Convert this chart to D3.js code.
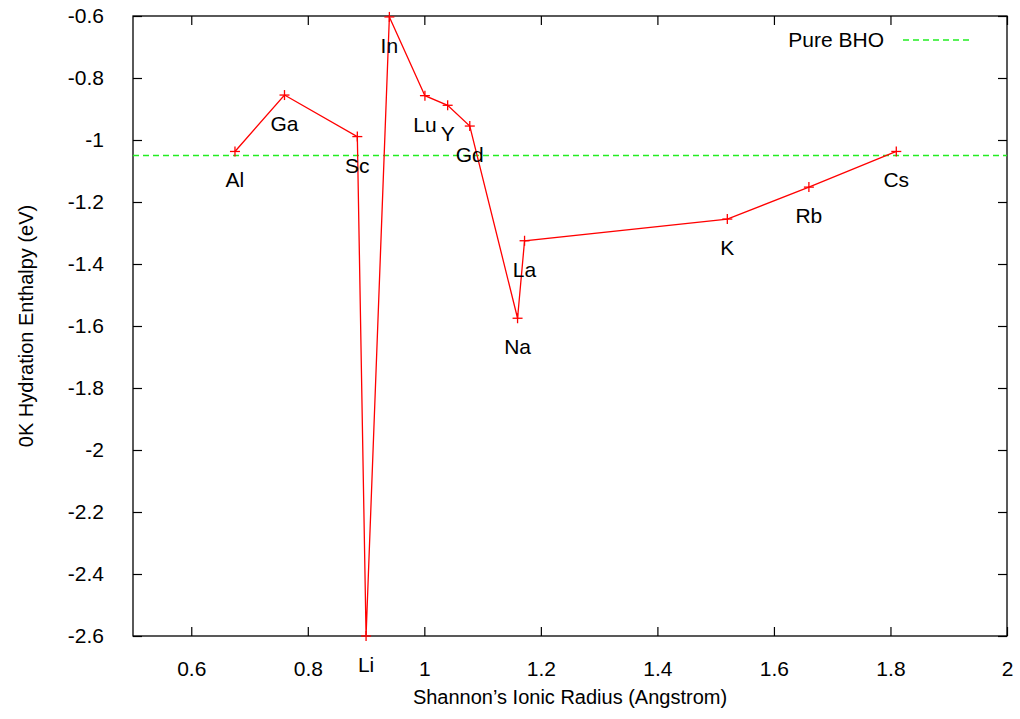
<!DOCTYPE html>
<html lang="en">
<head>
  <meta charset="UTF-8">
  <title>Hydration Enthalpy vs Ionic Radius</title>
  <style>
    * { margin: 0; padding: 0; box-sizing: border-box; }
    body, html { background: #fff; font-family: "Liberation Sans", Arial, sans-serif; }
    svg text { fill: #000; }
  </style>
</head>
<body>
  <div id="chart"></div>
  <script src="https://d3js.org/d3.v7.min.js"></script>
  <script>
    // Dopant ions, in plotting order
    const elements = ["Al", "Ga", "Sc", "Li", "In", "Lu", "Y", "Gd", "Na", "La", "K", "Rb", "Cs"];
    const radius   = [0.675, 0.76, 0.885, 0.90, 0.94, 1.001, 1.04, 1.078, 1.16, 1.172, 1.52, 1.66, 1.81];
    const enthalpy = [-1.037, -0.855, -0.989, -2.60, -0.603, -0.857, -0.888, -0.955, -1.575, -1.325, -1.255, -1.152, -1.037];
    const pureBHO = -1.05;

    const xTicks = [0.6, 0.8, 1, 1.2, 1.4, 1.6, 1.8, 2];
    const yTicks = [-0.6, -0.8, -1, -1.2, -1.4, -1.6, -1.8, -2, -2.2, -2.4, -2.6];

    const width = 1020, height = 719;
    const margin = { top: 16, right: 13, bottom: 83, left: 133 };
    const iw = width - margin.left - margin.right;
    const ih = height - margin.top - margin.bottom;

    const svg = d3.select("#chart").append("svg")
      .attr("width", width)
      .attr("height", height);

    const g = svg.append("g").attr("transform", `translate(${margin.left},${margin.top})`);

    const x = d3.scaleLinear().domain([0.5, 2]).range([0, iw]);
    const y = d3.scaleLinear().domain([-2.6, -0.6]).range([ih, 0]);

    // plain hyphen minus like gnuplot
    const fmt = d => String(+d.toFixed(1));

    // axes with inward ticks on all sides
    const tickLen = 9;
    g.append("g").attr("transform", `translate(0,${ih})`)
      .call(d3.axisBottom(x).tickValues(xTicks).tickSize(-tickLen).tickPadding(tickLen + 16).tickFormat(fmt))
      .call(a => a.select(".domain").remove());
    g.append("g")
      .call(d3.axisTop(x).tickValues(xTicks).tickSize(-tickLen).tickFormat(""))
      .call(a => a.select(".domain").remove());
    g.append("g")
      .call(d3.axisLeft(y).tickValues(yTicks).tickSize(-tickLen).tickPadding(tickLen + 20).tickFormat(fmt))
      .call(a => a.select(".domain").remove());
    g.append("g").attr("transform", `translate(${iw},0)`)
      .call(d3.axisRight(y).tickValues(yTicks).tickSize(-tickLen).tickFormat(""))
      .call(a => a.select(".domain").remove());

    g.selectAll(".tick line").attr("stroke", "#000").attr("stroke-width", 1.2);
    g.selectAll(".tick text")
      .style("font-size", "21px")
      .style("font-family", "Liberation Sans, Arial, sans-serif");

    // frame
    g.append("rect")
      .attr("width", iw).attr("height", ih)
      .attr("fill", "none").attr("stroke", "#000").attr("stroke-width", 1.3);

    // Pure BHO reference line
    g.append("line")
      .attr("x1", 0).attr("x2", iw)
      .attr("y1", y(pureBHO)).attr("y2", y(pureBHO))
      .attr("stroke", "#22ee22").attr("stroke-width", 1.6)
      .attr("stroke-dasharray", "6,4");

    const pts = elements.map((e, i) => ({ name: e, r: radius[i], h: enthalpy[i] }));

    // data line
    g.append("path")
      .datum(pts)
      .attr("fill", "none")
      .attr("stroke", "#ff0000")
      .attr("stroke-width", 1.3)
      .attr("d", d3.line().x(d => x(d.r)).y(d => y(d.h)));

    // plus markers
    const m = 5;
    const marks = g.append("g").attr("stroke", "#ff0000").attr("stroke-width", 1.3);
    pts.forEach(d => {
      marks.append("line").attr("x1", x(d.r) - m).attr("x2", x(d.r) + m).attr("y1", y(d.h)).attr("y2", y(d.h));
      marks.append("line").attr("x1", x(d.r)).attr("x2", x(d.r)).attr("y1", y(d.h) - m).attr("y2", y(d.h) + m);
    });

    // element labels, below each point
    g.append("g").selectAll("text")
      .data(pts)
      .join("text")
      .attr("x", d => x(d.r))
      .attr("y", d => y(d.h) + 36)
      .attr("text-anchor", "middle")
      .style("font-size", "21px")
      .text(d => d.name);

    // legend
    const lgY = 40;
    svg.append("text")
      .attr("x", 884).attr("y", lgY + 7)
      .attr("text-anchor", "end")
      .style("font-size", "21px")
      .text("Pure BHO");
    svg.append("line")
      .attr("x1", 903).attr("x2", 973)
      .attr("y1", lgY).attr("y2", lgY)
      .attr("stroke", "#22ee22").attr("stroke-width", 1.6)
      .attr("stroke-dasharray", "6,4");

    // axis titles
    svg.append("text")
      .attr("x", margin.left + iw / 2).attr("y", 704)
      .attr("text-anchor", "middle")
      .style("font-size", "20px")
      .text("Shannon\u2019s Ionic Radius (Angstrom)");
    svg.append("text")
      .attr("transform", `translate(33,${margin.top + ih / 2}) rotate(-90)`)
      .attr("text-anchor", "middle")
      .style("font-size", "20px")
      .text("0K Hydration Enthalpy (eV)");
  </script>
</body>
</html>
